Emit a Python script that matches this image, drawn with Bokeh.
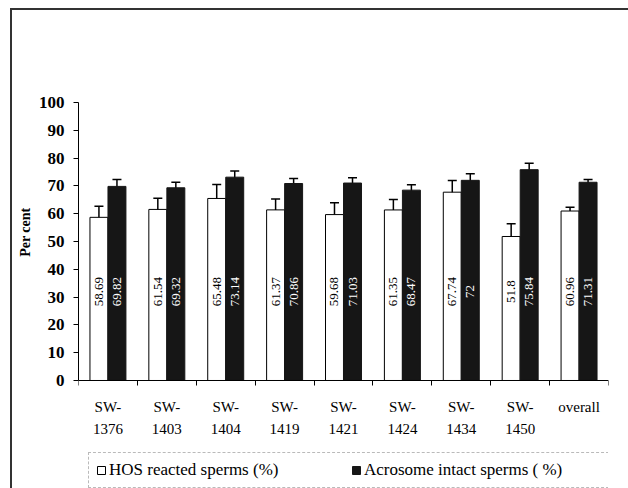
import numpy as np
from bokeh.plotting import figure
from bokeh.models import (Range1d, FixedTicker, ColumnDataSource, Whisker, TeeHead,
                          LabelSet, Legend, LegendItem, LinearAxis, Title)
from bokeh.embed import file_html
from bokeh.resources import INLINE
from bokeh.core.properties import value

categories = ["SW-1376", "SW-1403", "SW-1404", "SW-1419", "SW-1421",
              "SW-1424", "SW-1434", "SW-1450", "overall"]
tick_labels = ["SW-\n1376", "SW-\n1403", "SW-\n1404", "SW-\n1419", "SW-\n1421",
               "SW-\n1424", "SW-\n1434", "SW-\n1450", "overall\n "]
hos = [58.69, 61.54, 65.48, 61.37, 59.68, 61.35, 67.74, 51.8, 60.96]
hos_err = [4.0, 4.0, 5.0, 3.9, 4.3, 3.8, 4.2, 4.6, 1.4]
acro = [69.82, 69.32, 73.14, 70.86, 71.03, 68.47, 72.0, 75.84, 71.31]
acro_err = [2.5, 2.0, 2.2, 1.8, 1.9, 1.9, 2.4, 2.3, 1.0]
hos_labels = ["58.69", "61.54", "65.48", "61.37", "59.68", "61.35", "67.74", "51.8", "60.96"]
acro_labels = ["69.82", "69.32", "73.14", "70.86", "71.03", "68.47", "72", "75.84", "71.31"]
y_ticks = list(range(0, 101, 10))

FONT = "Liberation Serif"
n = len(categories)
centers = np.arange(n) + 0.5
off = 0.153
bw = 0.305

src = ColumnDataSource(dict(
    xw=centers - off, xb=centers + off,
    hos=hos, acro=acro,
    hu=np.array(hos) + np.array(hos_err), hl=np.array(hos) - np.array(hos_err),
    au=np.array(acro) + np.array(acro_err), al=np.array(acro) - np.array(acro_err),
    hlab=hos_labels, alab=acro_labels,
))

p = figure(width=628, height=488, x_range=Range1d(0, n), y_range=Range1d(-38.85, 100),
           output_backend="svg", toolbar_location=None, x_axis_location=None,
           min_border_left=78, min_border_right=20, min_border_top=102, min_border_bottom=0)
p.border_fill_color = None
p.background_fill_color = None
p.outline_line_color = None
p.xgrid.visible = False
p.ygrid.visible = False
p.styles = {"box-shadow": "inset 10px 8px 0 0 white, inset 12px 10px 0 0 #333333"}

# y axis
ya = p.yaxis[0]
ya.ticker = FixedTicker(ticks=y_ticks)
ya.bounds = (0, 100)
ya.major_tick_out = 5
ya.major_tick_in = 0
ya.minor_tick_out = 0
ya.minor_tick_in = 0
ya.axis_line_color = "black"
ya.major_tick_line_color = "black"
ya.major_label_text_font = FONT
ya.major_label_text_font_style = "bold"
ya.major_label_text_font_size = "17px"
ya.major_label_text_color = "black"
ya.major_label_standoff = 9

ytitle = Title(text="Per cent", align="right", offset=105, standoff=6,
               text_font=FONT, text_font_style="bold", text_font_size="14px",
               text_color="black")
p.add_layout(ytitle, "left")

# x axis drawn at y = 0
xa = LinearAxis(fixed_location=0)
xa.ticker = FixedTicker(ticks=list(centers), minor_ticks=list(range(n + 1)))
xa.major_label_overrides = {float(c): lab for c, lab in zip(centers, tick_labels)}
xa.major_tick_out = 0
xa.major_tick_in = 0
xa.minor_tick_out = 5
xa.minor_tick_in = 0
xa.minor_tick_line_color = "black"
xa.axis_line_color = "black"
xa.major_label_text_font = FONT
xa.major_label_text_font_size = "15px"
xa.major_label_text_color = "black"
xa.major_label_text_line_height = 1.35
xa.major_label_standoff = 14
p.add_layout(xa, "below")

r1 = p.vbar(x="xw", top="hos", width=bw, bottom=0, source=src,
            fill_color="white", line_color="black", line_width=1)
r2 = p.vbar(x="xb", top="acro", width=bw, bottom=0, source=src,
            fill_color="#161616", line_color="#161616", line_width=1)

for base, up, lo in (("xw", "hu", "hl"), ("xb", "au", "al")):
    w = Whisker(source=src, base=base, upper=up, lower=lo,
                line_color="black", line_width=1.5,
                upper_head=TeeHead(size=9, line_width=1.5, line_color="black"),
                lower_head=TeeHead(size=9, line_width=1.5, line_color="black"))
    p.add_layout(w)

p.add_layout(LabelSet(x="xw", y=32, text="hlab", source=src, angle=np.pi / 2,
                      text_align="center", text_baseline="middle",
                      text_font=value(FONT), text_font_size="13px", text_color="black"))
p.add_layout(LabelSet(x="xb", y=32, text="alab", source=src, angle=np.pi / 2,
                      text_align="center", text_baseline="middle",
                      text_font=value(FONT), text_font_size="13px", text_color="white"))

legend = Legend(items=[LegendItem(label="HOS reacted sperms (%)", renderers=[r1]),
                       LegendItem(label="Acrosome intact sperms ( %)", renderers=[r2])],
                orientation="horizontal", location=(10, 0))
legend.label_text_font = FONT
legend.label_text_font_size = "17px"
legend.label_text_color = "black"
legend.glyph_width = 10
legend.glyph_height = 10
legend.label_standoff = 3
legend.label_width = 242
legend.spacing = 0
legend.padding = 7
legend.margin = 0
legend.border_line_color = "#777777"
legend.border_line_dash = "3 2"
legend.border_line_width = 1
legend.background_fill_color = "white"
legend.background_fill_alpha = 1
p.add_layout(legend, "center")

open("out.html", "w").write(file_html(p, INLINE))
